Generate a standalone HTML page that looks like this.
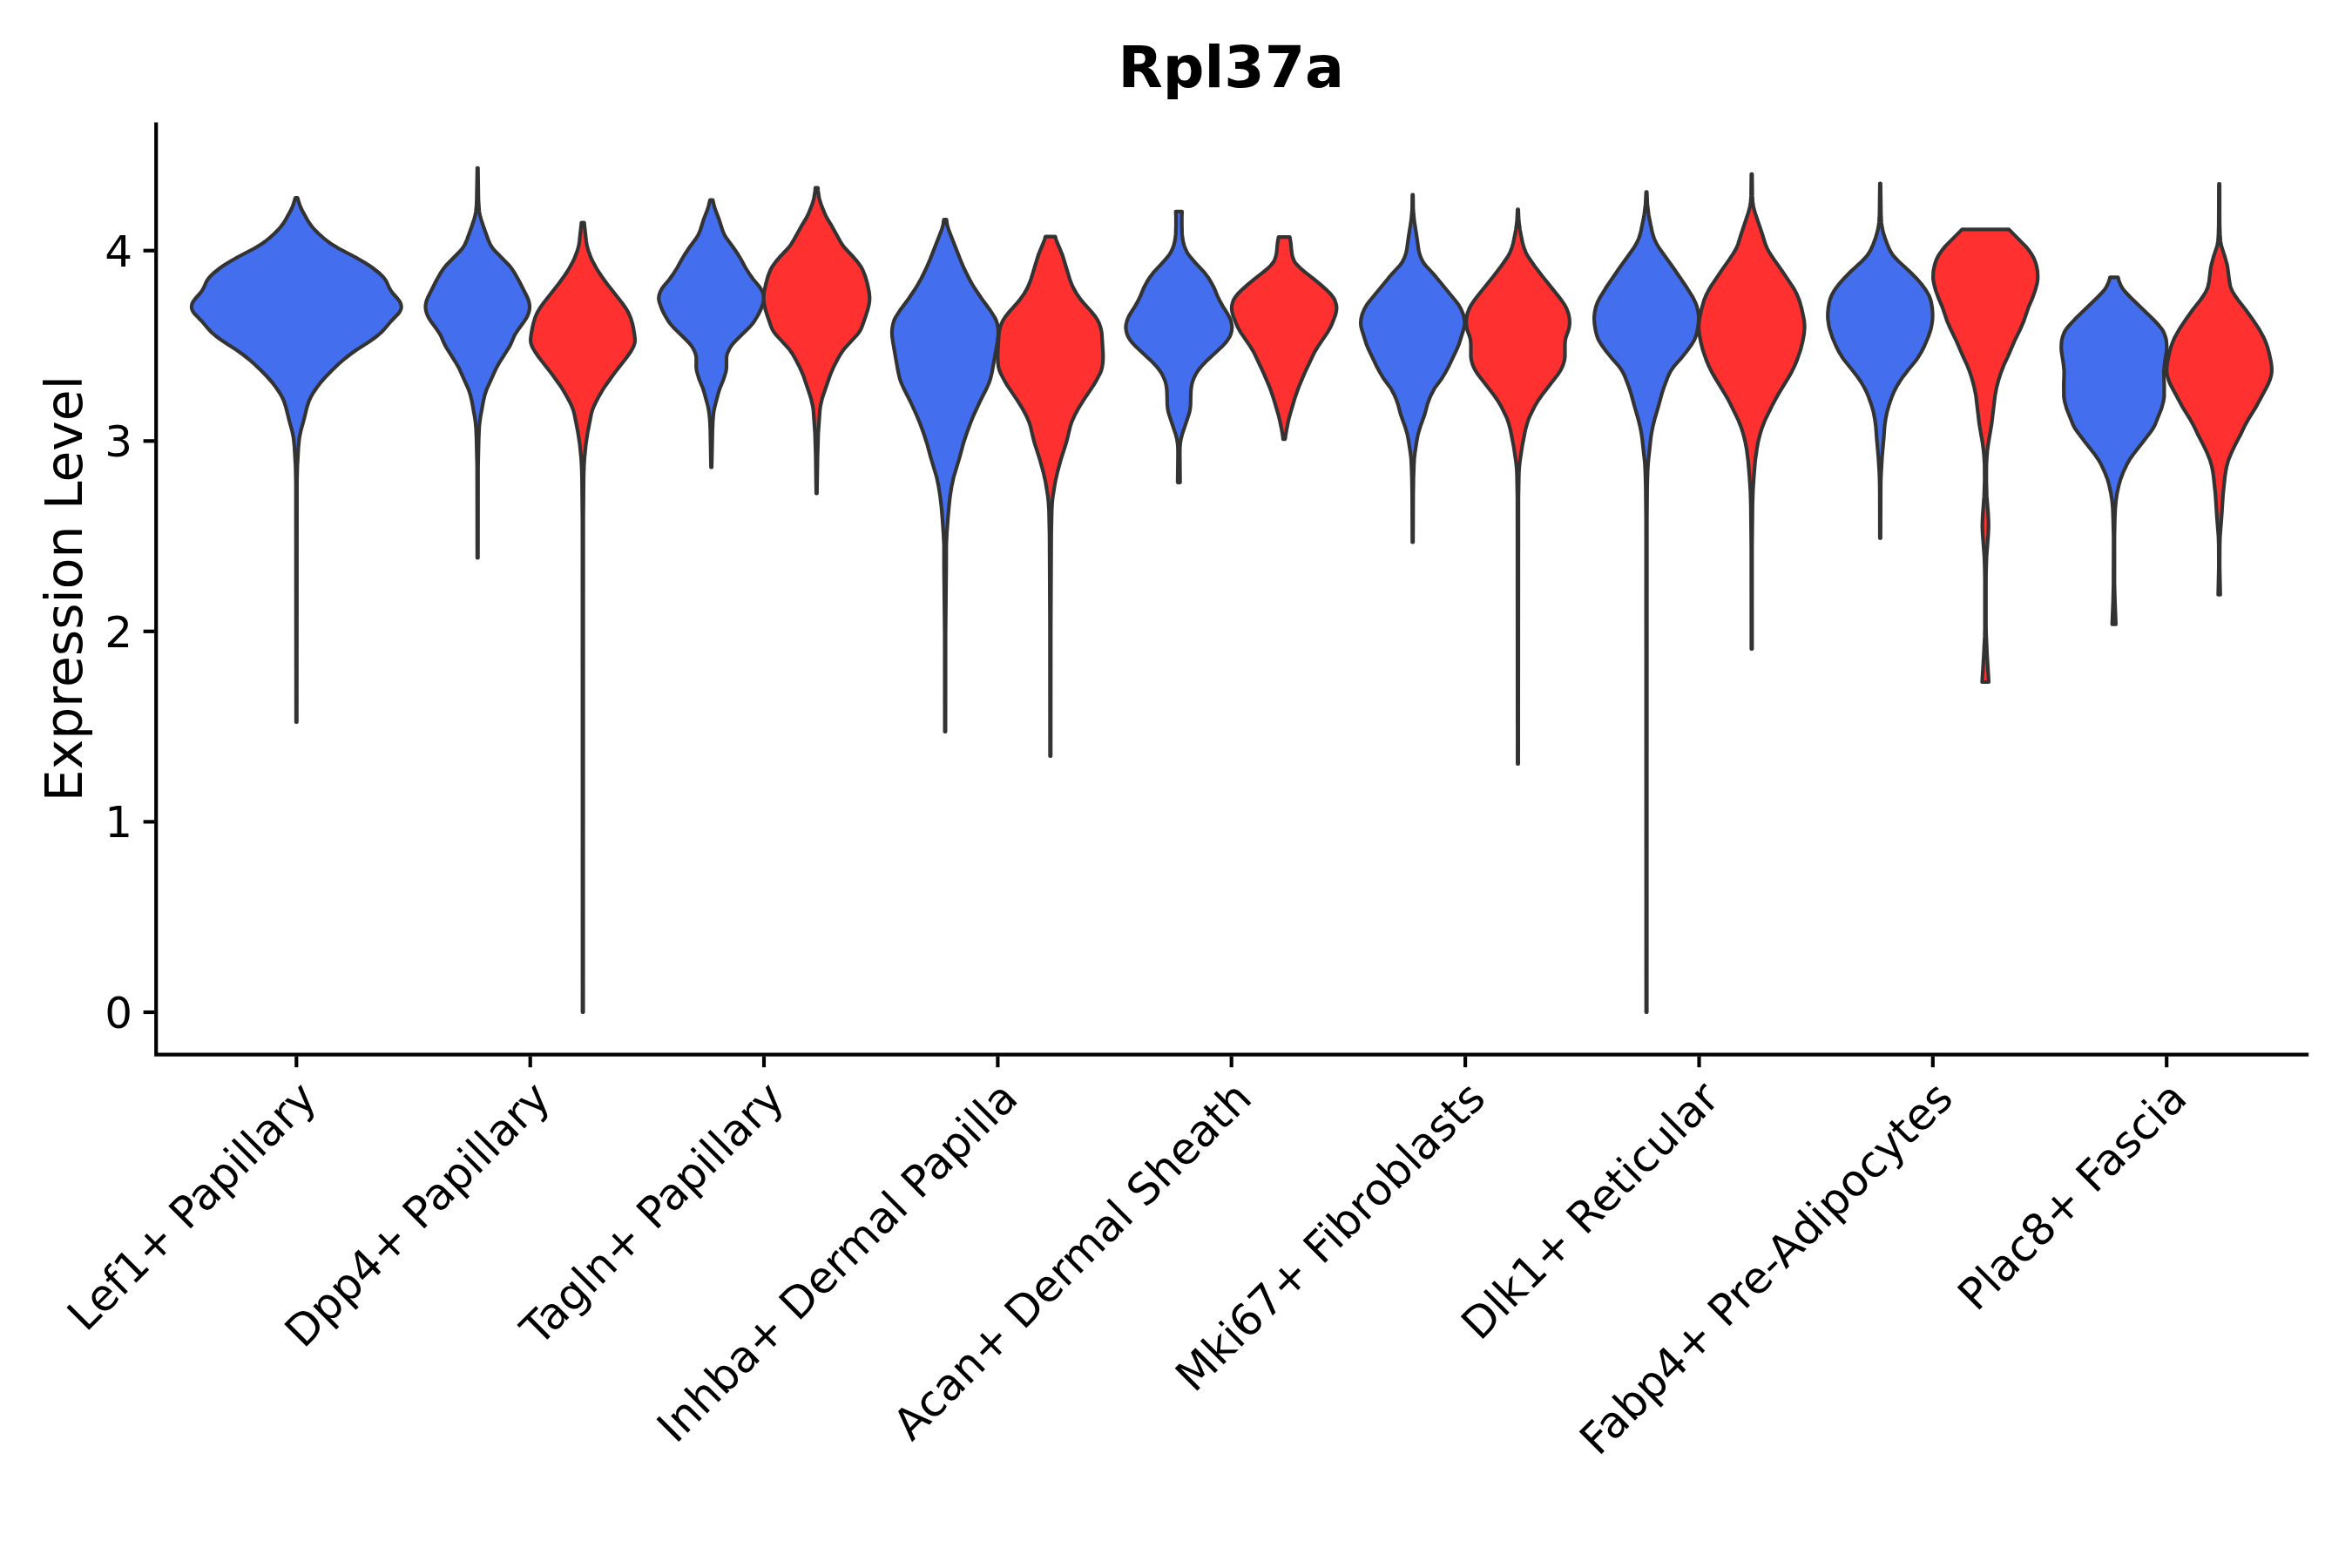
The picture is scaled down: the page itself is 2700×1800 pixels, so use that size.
<!DOCTYPE html>
<html lang="en"><head><meta charset="utf-8"><title>Rpl37a</title>
<style>html,body{margin:0;padding:0;background:#fff}svg{display:block}text{font-family:"DejaVu Sans","Liberation Sans",sans-serif;fill:#000}</style></head><body>
<svg width="2700" height="1800" viewBox="0 0 2700 1800">
<rect width="2700" height="1800" fill="#fff"/>
<g stroke="#333333" stroke-width="4.17" stroke-linejoin="round">
<path fill="#436eee" d="M339.0,227.0 337.6,232.0 336.2,236.0 335.0,239.0 333.5,242.0 328.0,252.0 325.5,256.0 322.6,260.0 319.1,264.0 315.1,268.0 309.5,273.0 304.6,277.0 300.4,280.0 292.2,285.0 273.1,295.0 262.7,301.0 256.4,305.0 252.2,308.0 244.7,314.0 240.7,318.0 238.3,321.0 236.6,324.0 234.0,330.0 231.7,334.0 229.4,337.0 224.1,343.0 221.8,346.0 220.4,349.0 219.9,352.0 220.1,354.0 220.7,356.0 221.8,358.0 223.2,360.0 231.9,369.0 239.5,378.0 243.4,382.0 246.9,385.0 252.1,389.0 257.9,393.0 271.9,402.0 278.8,407.0 285.2,412.0 292.1,418.0 300.4,426.0 307.2,433.0 312.5,439.0 317.0,445.0 321.1,451.0 323.9,456.0 325.8,460.0 328.1,467.0 332.6,485.0 335.4,495.0 337.0,503.0 338.0,513.0 339.3,536.0 339.7,554.0 339.9,829.0 340.7,829.0 340.9,554.0 341.3,536.0 342.6,513.0 343.6,503.0 345.2,495.0 348.0,485.0 352.5,467.0 354.8,460.0 356.7,456.0 359.5,451.0 363.6,445.0 368.1,439.0 373.4,433.0 380.2,426.0 388.5,418.0 395.4,412.0 401.8,407.0 408.7,402.0 422.7,393.0 428.5,389.0 433.7,385.0 437.2,382.0 441.1,378.0 448.7,369.0 457.4,360.0 458.8,358.0 459.9,356.0 460.5,354.0 460.7,352.0 460.2,349.0 458.8,346.0 456.5,343.0 451.2,337.0 448.9,334.0 446.6,330.0 444.0,324.0 442.3,321.0 439.9,318.0 435.9,314.0 428.4,308.0 424.2,305.0 417.9,301.0 407.5,295.0 388.4,285.0 380.2,280.0 376.0,277.0 371.1,273.0 365.5,268.0 361.5,264.0 358.0,260.0 355.1,256.0 352.6,252.0 347.1,242.0 345.6,239.0 344.4,236.0 343.0,232.0 341.6,227.0Z"/>
<path fill="#436eee" d="M547.9,192.8 547.3,227.8 547.0,235.8 546.3,242.8 545.6,246.8 544.2,251.8 540.9,261.8 536.2,274.8 533.6,280.8 531.8,283.8 530.3,285.8 526.7,289.8 512.0,304.8 508.8,308.8 506.1,312.8 500.5,322.8 491.0,341.8 489.8,344.8 489.0,347.8 488.5,350.8 488.5,352.8 488.8,355.8 489.5,358.8 490.6,361.8 492.1,364.8 495.3,369.8 502.6,379.8 504.6,382.8 506.2,385.8 509.6,393.8 511.7,397.8 523.0,415.8 527.5,423.8 537.8,446.8 539.8,452.8 541.7,460.8 544.8,477.8 545.7,483.8 546.4,490.8 546.9,501.8 547.7,535.8 547.9,640.4 548.7,640.4 548.8,535.8 549.6,501.8 550.1,490.8 550.8,483.8 551.7,477.8 554.8,460.8 556.7,452.8 558.7,446.8 569.1,423.8 573.5,415.8 584.9,397.8 586.9,393.8 590.3,385.8 591.9,382.8 593.9,379.8 601.2,369.8 604.4,364.8 605.9,361.8 607.0,358.8 607.7,355.8 608.0,352.8 608.0,350.8 607.5,347.8 606.7,344.8 605.6,341.8 596.0,322.8 590.4,312.8 587.8,308.8 584.6,304.8 569.9,289.8 566.3,285.8 564.7,283.8 562.9,280.8 560.3,274.8 555.6,261.8 552.3,251.8 550.9,246.8 550.2,242.8 549.6,235.8 549.2,227.8 548.7,192.8Z"/>
<path fill="#ff3030" d="M667.5,255.5 665.2,276.5 664.5,281.5 662.9,287.5 659.5,296.5 657.6,300.5 653.7,307.5 651.3,311.5 648.0,316.5 641.5,325.5 624.2,347.5 619.9,353.5 617.5,357.5 616.0,360.5 614.3,364.5 612.2,371.5 611.1,376.5 610.0,382.5 609.3,387.5 609.1,390.5 609.4,393.5 610.3,396.5 611.7,399.5 614.0,403.5 618.8,410.5 632.9,428.5 643.7,443.5 646.8,448.5 651.4,456.5 654.1,461.5 656.4,466.5 658.0,470.5 659.4,475.5 663.5,496.5 665.6,510.5 667.1,525.5 667.7,535.5 668.1,548.5 668.6,595.5 668.7,1162.0 669.5,1162.0 669.6,595.5 670.0,548.5 670.4,535.5 671.0,525.5 672.5,510.5 674.6,496.5 678.7,475.5 680.1,470.5 681.7,466.5 684.1,461.5 686.7,456.5 691.3,448.5 694.5,443.5 705.2,428.5 719.3,410.5 724.2,403.5 726.4,399.5 727.8,396.5 728.7,393.5 729.0,390.5 728.8,387.5 728.1,382.5 727.1,376.5 726.0,371.5 723.8,364.5 722.1,360.5 720.6,357.5 718.2,353.5 713.9,347.5 696.6,325.5 690.1,316.5 686.8,311.5 684.4,307.5 680.6,300.5 678.6,296.5 675.3,287.5 673.7,281.5 672.9,276.5 670.6,255.5Z"/>
<path fill="#436eee" d="M815.1,229.5 813.4,236.5 812.2,240.5 807.9,251.5 803.8,264.5 801.6,269.5 799.2,273.5 791.8,283.5 785.8,292.5 782.8,297.5 777.3,307.5 772.2,315.5 768.6,320.5 761.9,328.5 759.8,331.5 758.2,334.5 757.0,337.5 756.4,340.5 756.2,342.5 756.4,344.5 757.1,347.5 760.0,355.5 763.0,361.5 767.1,368.5 769.3,371.5 772.7,375.5 789.0,391.5 791.8,394.5 794.1,397.5 795.9,400.5 797.4,403.5 798.5,406.5 799.3,410.5 799.2,421.5 799.9,426.5 802.6,435.5 806.8,445.5 808.1,449.5 812.7,466.5 814.0,473.5 814.9,482.5 815.4,493.5 816.2,536.4 817.0,536.4 817.9,493.5 818.4,482.5 819.2,473.5 820.6,466.5 825.1,449.5 826.5,445.5 830.6,435.5 833.4,426.5 834.0,421.5 834.0,410.5 834.7,406.5 835.9,403.5 837.4,400.5 839.2,397.5 841.4,394.5 844.2,391.5 860.5,375.5 864.0,371.5 866.1,368.5 870.3,361.5 873.3,355.5 876.2,347.5 876.8,344.5 877.0,342.5 876.9,340.5 876.2,337.5 875.1,334.5 873.4,331.5 871.3,328.5 864.6,320.5 861.0,315.5 855.9,307.5 850.5,297.5 847.5,292.5 841.4,283.5 834.0,273.5 831.6,269.5 829.5,264.5 825.3,251.5 821.1,240.5 819.8,236.5 818.2,229.5Z"/>
<path fill="#ff3030" d="M935.9,215.7 935.8,218.7 935.2,222.7 934.3,227.7 933.3,231.7 932.3,234.7 927.9,245.7 926.0,249.7 919.9,259.7 910.5,276.7 908.0,280.7 904.9,284.7 896.4,293.7 890.4,300.7 886.7,305.7 884.5,309.7 881.7,316.7 879.2,325.7 877.1,335.7 876.6,341.7 876.7,344.7 877.2,348.7 878.7,355.7 880.3,360.7 884.8,373.7 886.4,377.7 888.1,380.7 891.1,384.7 904.0,398.7 906.6,401.7 909.4,405.7 912.9,411.7 917.6,420.7 922.0,430.7 929.8,453.7 931.3,458.7 932.9,465.7 933.7,470.7 935.6,497.7 936.4,523.7 937.0,566.5 937.8,566.5 938.5,523.7 939.3,497.7 941.2,470.7 941.9,465.7 943.5,458.7 945.0,453.7 952.9,430.7 957.2,420.7 961.9,411.7 965.4,405.7 968.2,401.7 970.8,398.7 983.7,384.7 986.7,380.7 988.4,377.7 990.0,373.7 994.5,360.7 996.1,355.7 997.7,348.7 998.2,344.7 998.3,341.7 997.8,335.7 995.7,325.7 993.1,316.7 990.3,309.7 988.1,305.7 984.4,300.7 978.4,293.7 969.9,284.7 966.8,280.7 964.4,276.7 955.0,259.7 948.9,249.7 947.0,245.7 942.6,234.7 941.6,231.7 940.5,227.7 939.6,222.7 939.1,218.7 938.9,215.7Z"/>
<path fill="#436eee" d="M1083.5,252.0 1082.7,258.0 1080.9,264.0 1068.0,297.0 1063.3,308.0 1057.4,320.0 1054.0,326.0 1050.4,332.0 1043.0,343.0 1033.3,356.0 1028.2,364.0 1026.3,368.0 1025.1,372.0 1024.2,377.0 1023.9,381.0 1024.1,386.0 1025.1,393.0 1030.5,424.0 1031.8,430.0 1033.0,435.0 1034.8,440.0 1037.0,445.0 1045.1,461.0 1052.4,477.0 1056.5,487.0 1060.5,498.0 1064.1,509.0 1068.4,525.0 1075.3,548.0 1077.4,558.0 1079.3,570.0 1080.6,581.0 1081.9,596.0 1083.0,612.0 1083.7,626.0 1083.7,653.0 1084.5,726.0 1084.6,840.0 1085.4,840.0 1085.5,726.0 1086.2,653.0 1086.3,626.0 1086.9,612.0 1088.1,596.0 1089.4,581.0 1090.6,570.0 1092.5,558.0 1094.7,548.0 1101.6,525.0 1105.9,509.0 1109.5,498.0 1113.5,487.0 1117.5,477.0 1124.9,461.0 1133.0,445.0 1135.2,440.0 1136.9,435.0 1138.2,430.0 1139.4,424.0 1144.9,393.0 1145.8,386.0 1146.1,381.0 1145.8,377.0 1144.9,372.0 1143.6,368.0 1141.7,364.0 1136.6,356.0 1127.0,343.0 1119.6,332.0 1115.9,326.0 1112.6,320.0 1106.6,308.0 1102.0,297.0 1089.1,264.0 1087.3,258.0 1086.5,252.0Z"/>
<path fill="#ff3030" d="M1200.1,271.6 1199.3,274.6 1198.2,277.6 1192.0,292.6 1183.8,319.6 1181.6,325.6 1179.4,330.6 1176.0,336.6 1171.1,343.6 1167.8,347.6 1158.9,357.6 1154.1,363.6 1151.5,367.6 1149.6,371.6 1147.6,377.6 1146.7,382.6 1145.4,404.6 1145.3,410.6 1145.6,416.6 1146.3,421.6 1147.5,425.6 1149.2,429.6 1152.9,436.6 1156.4,442.6 1167.9,459.6 1172.9,467.6 1178.3,477.6 1181.4,484.6 1183.0,489.6 1185.5,500.6 1187.6,508.6 1193.7,527.6 1197.6,541.6 1200.3,553.6 1202.9,569.6 1203.6,576.6 1204.2,585.6 1204.8,613.6 1205.3,715.6 1205.4,868.0 1206.2,868.0 1206.3,715.6 1206.8,613.6 1207.4,585.6 1207.9,576.6 1208.7,569.6 1211.3,553.6 1214.0,541.6 1217.8,527.6 1223.9,508.6 1226.0,500.6 1228.6,489.6 1230.2,484.6 1233.3,477.6 1238.7,467.6 1243.7,459.6 1255.1,442.6 1258.7,436.6 1262.4,429.6 1264.1,425.6 1265.2,421.6 1266.0,416.6 1266.3,410.6 1266.2,404.6 1264.8,382.6 1263.9,377.6 1262.0,371.6 1260.1,367.6 1257.5,363.6 1252.7,357.6 1243.7,347.6 1240.4,343.6 1235.6,336.6 1232.2,330.6 1229.9,325.6 1227.8,319.6 1219.6,292.6 1213.3,277.6 1212.2,274.6 1211.4,271.6Z"/>
<path fill="#436eee" d="M1349.7,242.9 1350.0,248.9 1350.0,258.9 1349.7,268.9 1349.1,273.9 1348.4,277.9 1347.3,281.9 1345.8,285.9 1343.3,290.9 1340.4,294.9 1334.3,301.9 1324.0,312.9 1320.2,317.9 1317.0,322.9 1313.2,329.9 1309.1,339.9 1306.2,345.9 1302.8,351.9 1297.7,359.9 1295.4,363.9 1294.2,366.9 1293.3,369.9 1292.6,372.9 1292.4,375.9 1292.8,379.9 1293.9,383.9 1295.2,386.9 1297.7,390.9 1300.2,393.9 1303.0,396.9 1321.2,413.9 1327.8,420.9 1331.0,424.9 1333.6,428.9 1336.1,433.9 1337.7,437.9 1338.7,441.9 1339.4,446.9 1339.7,451.9 1340.0,464.9 1340.7,470.9 1341.4,473.9 1343.0,478.9 1349.7,498.9 1351.0,503.9 1351.8,508.9 1352.2,513.9 1352.3,520.9 1351.9,553.8 1354.7,553.8 1354.4,520.9 1354.5,513.9 1354.9,508.9 1355.7,503.9 1357.0,498.9 1363.7,478.9 1365.3,473.9 1366.0,470.9 1366.7,464.9 1367.0,451.9 1367.3,446.9 1368.0,441.9 1369.0,437.9 1370.6,433.9 1373.1,428.9 1375.7,424.9 1378.9,420.9 1385.5,413.9 1403.7,396.9 1406.5,393.9 1408.9,390.9 1411.5,386.9 1412.8,383.9 1413.9,379.9 1414.3,375.9 1414.0,372.9 1413.4,369.9 1412.5,366.9 1411.2,363.9 1409.0,359.9 1403.9,351.9 1400.5,345.9 1397.6,339.9 1393.5,329.9 1389.7,322.9 1386.5,317.9 1382.7,312.9 1372.4,301.9 1366.3,294.9 1363.4,290.9 1360.9,285.9 1359.4,281.9 1358.3,277.9 1357.6,273.9 1357.0,268.9 1356.7,258.9 1356.7,248.9 1356.9,242.9Z"/>
<path fill="#ff3030" d="M1467.7,272.1 1466.5,279.1 1465.7,288.1 1464.9,293.1 1463.7,297.1 1462.9,299.1 1461.7,301.1 1459.3,304.1 1455.3,308.1 1450.5,312.1 1440.3,320.1 1433.0,326.1 1426.3,332.1 1421.2,337.1 1418.0,341.1 1416.7,343.1 1415.7,345.1 1414.5,349.1 1414.1,351.1 1413.9,354.1 1414.4,358.1 1415.7,363.1 1418.9,371.1 1421.1,376.1 1423.9,381.1 1434.9,397.1 1439.2,404.1 1450.5,428.1 1456.5,442.1 1459.5,450.1 1462.2,458.1 1467.8,477.1 1469.4,484.1 1471.3,493.1 1472.5,500.1 1472.9,504.1 1475.3,504.1 1475.8,500.1 1477.0,493.1 1478.8,484.1 1480.5,477.1 1486.1,458.1 1488.8,450.1 1491.8,442.1 1497.7,428.1 1509.1,404.1 1513.4,397.1 1524.3,381.1 1527.1,376.1 1529.4,371.1 1532.5,363.1 1533.9,358.1 1534.4,354.1 1534.2,351.1 1533.8,349.1 1532.5,345.1 1531.6,343.1 1530.3,341.1 1527.1,337.1 1522.0,332.1 1515.3,326.1 1508.0,320.1 1497.7,312.1 1493.0,308.1 1488.9,304.1 1486.5,301.1 1485.4,299.1 1484.6,297.1 1483.4,293.1 1482.6,288.1 1481.8,279.1 1480.6,272.1Z"/>
<path fill="#436eee" d="M1621.3,223.7 1621.1,240.7 1620.0,252.7 1617.0,271.7 1614.9,286.7 1614.0,290.7 1612.7,294.7 1611.3,297.7 1609.8,300.7 1607.0,304.7 1598.7,313.7 1594.3,318.7 1572.1,345.7 1569.1,349.7 1566.2,354.7 1563.7,360.7 1562.5,365.7 1562.0,370.7 1562.4,374.7 1563.4,378.7 1568.4,394.7 1571.3,401.7 1579.9,419.7 1584.2,427.7 1588.4,434.7 1595.1,443.7 1597.1,446.7 1600.3,452.7 1602.5,457.7 1604.7,463.7 1607.9,475.7 1612.6,488.7 1615.6,498.7 1617.1,506.7 1619.1,519.7 1619.9,526.7 1620.3,534.7 1620.8,548.7 1621.1,567.7 1621.3,622.4 1622.1,622.4 1622.3,567.7 1622.6,548.7 1623.1,534.7 1623.5,526.7 1624.3,519.7 1626.3,506.7 1627.8,498.7 1630.8,488.7 1635.5,475.7 1638.7,463.7 1640.9,457.7 1643.1,452.7 1646.3,446.7 1648.3,443.7 1655.0,434.7 1659.2,427.7 1663.5,419.7 1672.1,401.7 1675.0,394.7 1680.0,378.7 1681.0,374.7 1681.4,370.7 1680.9,365.7 1679.7,360.7 1677.2,354.7 1674.3,349.7 1671.3,345.7 1649.1,318.7 1644.7,313.7 1636.4,304.7 1633.6,300.7 1632.1,297.7 1630.7,294.7 1629.4,290.7 1628.5,286.7 1626.4,271.7 1623.4,252.7 1622.3,240.7 1622.1,223.7Z"/>
<path fill="#ff3030" d="M1742.1,240.3 1741.5,253.3 1740.2,263.3 1738.1,274.3 1737.0,279.3 1735.6,284.3 1733.6,289.3 1732.2,292.3 1730.4,295.3 1723.5,305.3 1714.3,317.3 1696.6,339.3 1692.0,345.3 1689.3,349.3 1686.6,354.3 1684.4,360.3 1683.4,365.3 1683.1,370.3 1683.3,373.3 1684.0,377.3 1684.9,380.3 1687.1,386.3 1688.1,390.3 1688.5,395.3 1688.5,409.3 1689.0,413.3 1690.4,418.3 1691.6,421.3 1693.1,424.3 1696.9,430.3 1714.7,453.3 1718.9,459.3 1723.7,467.3 1728.6,477.3 1730.3,481.3 1732.0,486.3 1734.1,494.3 1737.6,512.3 1740.3,530.3 1741.1,538.3 1741.4,544.3 1741.9,571.3 1742.1,877.0 1742.9,877.0 1743.1,571.3 1743.6,544.3 1743.9,538.3 1744.7,530.3 1747.4,512.3 1750.9,494.3 1753.0,486.3 1754.7,481.3 1756.4,477.3 1761.3,467.3 1766.1,459.3 1770.3,453.3 1788.1,430.3 1791.9,424.3 1793.4,421.3 1794.6,418.3 1796.0,413.3 1796.5,409.3 1796.5,395.3 1796.9,390.3 1797.9,386.3 1800.1,380.3 1801.0,377.3 1801.7,373.3 1801.9,370.3 1801.6,365.3 1800.6,360.3 1798.4,354.3 1795.7,349.3 1793.0,345.3 1788.4,339.3 1770.7,317.3 1761.5,305.3 1754.6,295.3 1752.8,292.3 1751.4,289.3 1749.4,284.3 1748.0,279.3 1746.9,274.3 1744.8,263.3 1743.5,253.3 1742.9,240.3Z"/>
<path fill="#436eee" d="M1889.7,220.3 1889.0,234.3 1887.5,246.3 1886.2,253.3 1883.7,265.3 1882.4,270.3 1881.0,274.3 1878.1,280.3 1875.1,285.3 1859.3,307.3 1843.6,330.3 1836.8,341.3 1833.8,347.3 1832.0,352.3 1830.7,358.3 1830.2,362.3 1830.0,365.3 1830.5,372.3 1831.8,380.3 1833.1,385.3 1835.0,390.3 1838.0,395.3 1843.8,403.3 1849.5,410.3 1857.5,419.3 1861.1,424.3 1862.9,427.3 1864.9,431.3 1869.9,444.3 1871.9,450.3 1876.3,466.3 1880.4,480.3 1883.1,491.3 1884.2,497.3 1885.1,503.3 1888.2,531.3 1888.7,541.3 1889.2,557.3 1889.6,595.3 1889.7,1162.0 1890.5,1162.0 1890.6,595.3 1890.9,557.3 1891.4,541.3 1892.0,531.3 1895.0,503.3 1895.9,497.3 1897.0,491.3 1899.7,480.3 1903.8,466.3 1908.2,450.3 1910.2,444.3 1915.2,431.3 1917.2,427.3 1919.0,424.3 1922.6,419.3 1930.7,410.3 1936.3,403.3 1942.1,395.3 1945.1,390.3 1947.0,385.3 1948.3,380.3 1949.6,372.3 1950.1,365.3 1949.9,362.3 1949.4,358.3 1948.1,352.3 1946.3,347.3 1943.4,341.3 1936.5,330.3 1920.8,307.3 1905.0,285.3 1902.0,280.3 1899.1,274.3 1897.7,270.3 1896.4,265.3 1893.9,253.3 1892.6,246.3 1891.1,234.3 1890.5,220.3Z"/>
<path fill="#ff3030" d="M2010.5,199.9 2010.2,224.9 2009.7,231.9 2008.9,236.9 2007.1,243.9 1998.7,268.9 1995.3,279.9 1993.3,284.9 1989.9,290.9 1985.2,297.9 1976.7,309.9 1964.6,327.9 1961.6,332.9 1959.0,337.9 1956.1,344.9 1953.3,354.9 1950.8,366.9 1950.3,370.9 1950.1,374.9 1950.3,378.9 1950.8,383.9 1952.3,391.9 1954.8,401.9 1958.6,412.9 1961.5,419.9 1964.9,426.9 1968.9,433.9 1979.3,450.9 1983.4,457.9 1986.5,463.9 1995.8,482.9 1998.9,490.9 2001.4,498.9 2003.4,506.9 2005.1,515.9 2006.8,528.9 2008.3,546.9 2009.4,563.9 2009.9,580.9 2010.4,629.9 2010.5,745.0 2011.3,745.0 2011.3,629.9 2011.8,580.9 2012.3,563.9 2013.4,546.9 2014.9,528.9 2016.7,515.9 2018.3,506.9 2020.3,498.9 2022.8,490.9 2025.9,482.9 2035.2,463.9 2038.4,457.9 2042.4,450.9 2052.8,433.9 2056.8,426.9 2060.2,419.9 2063.1,412.9 2066.9,401.9 2069.4,391.9 2070.9,383.9 2071.4,378.9 2071.6,374.9 2071.4,370.9 2070.9,366.9 2068.4,354.9 2065.6,344.9 2062.8,337.9 2060.2,332.9 2057.1,327.9 2045.0,309.9 2036.5,297.9 2031.8,290.9 2028.5,284.9 2026.4,279.9 2023.1,268.9 2014.6,243.9 2012.8,236.9 2012.0,231.9 2011.6,224.9 2011.3,199.9Z"/>
<path fill="#436eee" d="M2158.0,210.7 2157.6,246.7 2157.0,255.7 2156.1,261.7 2154.7,267.7 2153.2,272.7 2150.6,279.7 2148.5,284.7 2146.5,288.7 2144.6,291.7 2142.3,294.7 2137.6,299.7 2124.5,311.7 2117.7,318.7 2110.6,326.7 2107.6,330.7 2105.0,334.7 2103.3,337.7 2101.9,340.7 2100.8,343.7 2100.0,346.7 2098.8,353.7 2098.3,358.7 2098.2,362.7 2098.4,366.7 2099.0,370.7 2099.6,374.7 2100.6,378.7 2103.6,387.7 2107.9,397.7 2111.5,404.7 2115.2,410.7 2118.2,414.7 2126.3,424.7 2132.4,432.7 2135.9,437.7 2139.5,443.7 2142.6,449.7 2145.1,455.7 2148.6,465.7 2150.6,472.7 2152.3,481.7 2153.4,489.7 2154.4,503.7 2156.2,523.7 2157.4,542.7 2157.7,551.7 2157.9,563.7 2158.0,617.8 2158.8,617.8 2159.0,563.7 2159.1,551.7 2159.5,542.7 2160.6,523.7 2162.4,503.7 2163.4,489.7 2164.5,481.7 2166.3,472.7 2168.3,465.7 2171.7,455.7 2174.2,449.7 2177.3,443.7 2181.0,437.7 2184.4,432.7 2190.5,424.7 2198.7,414.7 2201.6,410.7 2205.3,404.7 2208.9,397.7 2213.2,387.7 2216.3,378.7 2217.2,374.7 2217.9,370.7 2218.4,366.7 2218.6,362.7 2218.5,358.7 2218.1,353.7 2216.9,346.7 2216.1,343.7 2215.0,340.7 2213.6,337.7 2211.8,334.7 2209.2,330.7 2206.2,326.7 2199.2,318.7 2192.3,311.7 2179.2,299.7 2174.5,294.7 2172.2,291.7 2170.3,288.7 2168.3,284.7 2166.3,279.7 2163.7,272.7 2162.1,267.7 2160.7,261.7 2159.8,255.7 2159.3,246.7 2158.8,210.7Z"/>
<path fill="#ff3030" d="M2252.3,263.4 2233.4,282.4 2229.3,287.4 2225.9,292.4 2224.2,295.4 2222.8,298.4 2221.7,301.4 2220.6,305.4 2219.4,311.4 2219.1,318.4 2219.3,321.4 2220.0,325.4 2222.1,333.4 2225.0,341.4 2229.7,352.4 2235.1,368.4 2239.5,378.4 2245.8,391.4 2253.6,409.4 2258.3,419.4 2261.4,427.4 2263.9,435.4 2266.3,444.4 2268.3,454.4 2272.2,487.4 2275.7,507.4 2276.9,516.4 2277.6,523.4 2278.2,533.4 2278.3,551.4 2277.7,569.4 2276.2,589.4 2275.8,597.4 2275.6,604.4 2276.0,613.4 2277.9,638.4 2278.4,652.4 2278.6,664.4 2278.6,720.4 2278.4,730.4 2277.3,752.4 2275.4,783.0 2283.0,783.0 2281.1,752.4 2280.1,730.4 2279.8,720.4 2279.8,664.4 2280.0,652.4 2280.5,638.4 2282.4,613.4 2282.8,604.4 2282.7,597.4 2282.3,589.4 2280.7,569.4 2280.2,551.4 2280.3,533.4 2280.9,523.4 2281.5,516.4 2282.8,507.4 2286.2,487.4 2290.2,454.4 2292.1,444.4 2294.5,435.4 2297.1,427.4 2300.2,419.4 2304.9,409.4 2312.6,391.4 2319.0,378.4 2323.3,368.4 2328.8,352.4 2333.5,341.4 2336.3,333.4 2338.5,325.4 2339.1,321.4 2339.3,318.4 2339.0,311.4 2337.9,305.4 2336.7,301.4 2335.6,298.4 2334.2,295.4 2332.6,292.4 2329.2,287.4 2325.0,282.4 2306.2,263.4Z"/>
<path fill="#436eee" d="M2422.2,318.3 2421.2,322.3 2419.1,327.3 2416.9,331.3 2414.6,334.3 2407.9,341.3 2382.0,366.3 2375.5,373.3 2372.2,377.3 2370.9,379.3 2369.4,382.3 2367.6,387.3 2366.9,390.3 2366.5,393.3 2366.2,399.3 2366.6,404.3 2368.4,415.3 2369.5,425.3 2369.5,429.3 2369.1,441.3 2369.2,455.3 2370.2,461.3 2372.4,469.3 2379.2,486.3 2380.6,489.3 2382.3,492.3 2385.1,496.3 2393.4,507.3 2405.2,522.3 2408.6,527.3 2412.1,533.3 2415.8,541.3 2419.3,550.3 2421.3,557.3 2423.2,566.3 2424.6,575.3 2425.4,584.3 2425.8,596.3 2426.3,616.3 2426.2,670.3 2425.7,691.3 2424.7,716.7 2428.9,716.7 2427.9,691.3 2427.3,670.3 2427.3,616.3 2427.7,596.3 2428.2,584.3 2429.0,575.3 2430.3,566.3 2432.3,557.3 2434.3,550.3 2437.7,541.3 2441.5,533.3 2444.9,527.3 2448.4,522.3 2460.1,507.3 2468.5,496.3 2471.3,492.3 2473.0,489.3 2474.4,486.3 2481.2,469.3 2483.4,461.3 2484.4,455.3 2484.4,441.3 2484.0,429.3 2484.1,425.3 2485.1,415.3 2487.0,404.3 2487.4,399.3 2487.1,393.3 2486.7,390.3 2486.0,387.3 2484.2,382.3 2482.7,379.3 2481.3,377.3 2478.1,373.3 2471.5,366.3 2445.6,341.3 2439.0,334.3 2436.7,331.3 2434.4,327.3 2432.4,322.3 2431.4,318.3Z"/>
<path fill="#ff3030" d="M2547.2,211.2 2547.0,258.2 2546.7,269.2 2546.2,276.2 2545.6,280.2 2544.9,283.2 2540.9,295.2 2538.5,304.2 2537.6,309.2 2535.9,323.2 2534.6,329.2 2533.9,331.2 2532.6,334.2 2529.6,339.2 2526.1,344.2 2517.4,355.2 2510.3,365.2 2501.6,378.2 2497.1,386.2 2495.2,390.2 2493.6,394.2 2491.9,399.2 2490.5,404.2 2488.2,415.2 2487.5,420.2 2487.2,424.2 2487.3,427.2 2488.0,431.2 2489.4,436.2 2491.0,440.2 2493.6,445.2 2506.0,468.2 2514.7,482.2 2518.0,488.2 2522.3,497.2 2528.5,509.2 2533.8,520.2 2537.0,528.2 2539.0,535.2 2540.2,541.2 2541.1,547.2 2543.2,567.2 2544.9,593.2 2546.7,616.2 2547.0,626.2 2547.1,650.2 2546.4,682.7 2548.8,682.7 2548.1,650.2 2548.2,626.2 2548.5,616.2 2550.3,593.2 2552.0,567.2 2554.1,547.2 2555.0,541.2 2556.2,535.2 2558.1,528.2 2561.4,520.2 2566.6,509.2 2572.9,497.2 2577.2,488.2 2580.5,482.2 2589.2,468.2 2601.6,445.2 2604.1,440.2 2605.7,436.2 2607.2,431.2 2607.8,427.2 2607.9,424.2 2607.7,420.2 2607.0,415.2 2604.6,404.2 2603.2,399.2 2601.5,394.2 2599.9,390.2 2598.0,386.2 2593.6,378.2 2584.9,365.2 2577.7,355.2 2569.1,344.2 2565.6,339.2 2562.6,334.2 2561.2,331.2 2560.5,329.2 2559.3,323.2 2557.5,309.2 2556.7,304.2 2554.2,295.2 2550.3,283.2 2549.6,280.2 2549.0,276.2 2548.5,269.2 2548.1,258.2 2548.0,211.2Z"/>
</g>
<g stroke="#000" stroke-width="4.17" fill="none" stroke-linecap="butt">
<path d="M179.2,140.6 V1210.6 H2650.2" stroke-linejoin="miter"/>
<path d="M177.1,1162.0 H164.6"/>
<path d="M177.1,943.4 H164.6"/>
<path d="M177.1,724.8 H164.6"/>
<path d="M177.1,506.3 H164.6"/>
<path d="M177.1,287.7 H164.6"/>
<path d="M340.3,1212.7 V1225.2"/>
<path d="M608.7,1212.7 V1225.2"/>
<path d="M877.0,1212.7 V1225.2"/>
<path d="M1145.4,1212.7 V1225.2"/>
<path d="M1413.7,1212.7 V1225.2"/>
<path d="M1682.1,1212.7 V1225.2"/>
<path d="M1950.5,1212.7 V1225.2"/>
<path d="M2218.8,1212.7 V1225.2"/>
<path d="M2487.2,1212.7 V1225.2"/>
</g>
<g font-size="50" text-anchor="end">
<text x="152.1" y="1180.0">0</text>
<text x="152.1" y="961.4">1</text>
<text x="152.1" y="742.8">2</text>
<text x="152.1" y="524.3">3</text>
<text x="152.1" y="305.7">4</text>
</g>
<g font-size="50" text-anchor="end">
<text transform="translate(365.9,1263.3) rotate(-45)">Lef1+ Papillary</text>
<text transform="translate(634.3,1263.3) rotate(-45)">Dpp4+ Papillary</text>
<text transform="translate(902.6,1263.3) rotate(-45)">Tagln+ Papillary</text>
<text transform="translate(1171.0,1263.3) rotate(-45)">Inhba+ Dermal Papilla</text>
<text transform="translate(1439.3,1263.3) rotate(-45)">Acan+ Dermal Sheath</text>
<text transform="translate(1707.7,1263.3) rotate(-45)">Mki67+ Fibroblasts</text>
<text transform="translate(1976.1,1263.3) rotate(-45)">Dlk1+ Reticular</text>
<text transform="translate(2244.4,1263.3) rotate(-45)">Fabp4+ Pre-Adipocytes</text>
<text transform="translate(2512.8,1263.3) rotate(-45)">Plac8+ Fascia</text>
</g>
<text font-size="58.33" text-anchor="middle" transform="translate(94,675.6) rotate(-90)">Expression Level</text>
<text font-size="66.67" font-weight="bold" text-anchor="middle" x="1413.3" y="99.9">Rpl37a</text>
</svg></body></html>
